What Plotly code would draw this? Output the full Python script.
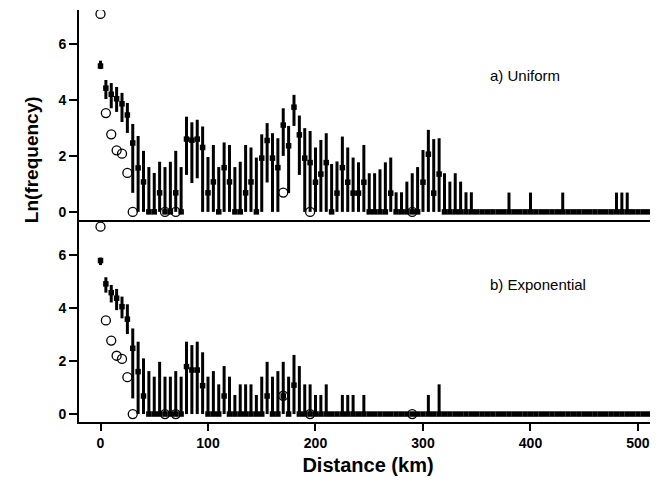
import plotly.graph_objects as go

# Distance bins (km), 5 km steps from 0 to 515
distance = list(range(0, 520, 5))

# ---- a) Uniform: simulated mean, lower and upper of range (ln frequency)
uni_mean = [5.21, 4.42, 4.20, 4.04, 3.86, 3.46, 2.46, 1.57, 1.07, 0,
            0, 0.68, 0, 0, 0.68, 0, 2.60, 2.56, 2.60, 2.30,
            0.68, 1.07, 0, 1.58, 1.07, 0, 0, 0.68, 1.07, 0,
            1.92, 2.55, 1.92, 1.58, 3.10, 2.36, 3.74, 2.75, 1.92, 1.76,
            1.06, 1.35, 1.76, 0, 0.67, 1.58, 1.06, 0.67, 0.67, 1.06,
            0, 0, 0, 0, 0.67, 0, 0, 0, 0, 0,
            1.06, 2.06, 0.67, 1.35, 0, 0, 0, 0, 0, 0,
            0, 0, 0, 0, 0, 0, 0, 0, 0, 0,
            0, 0, 0, 0, 0, 0, 0, 0, 0, 0,
            0, 0, 0, 0, 0, 0, 0, 0, 0, 0,
            0, 0, 0, 0]
uni_low = [5.10, 4.03, 3.70, 3.57, 3.21, 2.82, 0.68, 0, 0, 0,
           0, 0, 0, 0, 0, 0, 1.32, 1.03, 1.20, 0,
           0, 0, 0, 0, 0, 0, 0, 0, 0, 0,
           0, 1.05, 0, 0, 2.00, 0.67, 3.07, 1.32, 0, 0,
           0, 0, 0, 0, 0, 0, 0, 0, 0, 0,
           0, 0, 0, 0, 0, 0, 0, 0, 0, 0,
           0, 0, 0, 0, 0, 0, 0, 0, 0, 0,
           0, 0, 0, 0, 0, 0, 0, 0, 0, 0,
           0, 0, 0, 0, 0, 0, 0, 0, 0, 0,
           0, 0, 0, 0, 0, 0, 0, 0, 0, 0,
           0, 0, 0, 0]
uni_high = [5.40, 4.71, 4.60, 4.46, 4.25, 3.89, 3.14, 2.71, 2.18, 1.60,
            1.39, 1.79, 1.60, 1.79, 2.18, 1.60, 3.40, 3.20, 3.29, 3.05,
            1.96, 2.39, 1.60, 2.48, 2.39, 1.60, 1.79, 2.39, 2.30, 1.94,
            2.77, 3.17, 2.81, 2.63, 3.70, 3.07, 4.18, 3.44, 2.99, 2.89,
            2.30, 2.57, 2.81, 1.71, 1.80, 2.69, 2.30, 1.94, 1.77, 2.39,
            1.38, 1.38, 1.52, 1.77, 1.94, 0.70, 0.70, 1.08, 1.38, 1.60,
            2.21, 2.93, 2.60, 2.63, 1.38, 1.08, 1.38, 1.08, 0.70, 0.70,
            0, 0, 0, 0, 0, 0, 0.69, 0, 0, 0,
            0.69, 0, 0, 0, 0, 0, 0.69, 0, 0, 0,
            0, 0, 0, 0, 0, 0, 0.69, 0.69, 0.69, 0,
            0, 0, 0, 0]

# ---- b) Exponential
exp_mean = [5.79, 4.91, 4.58, 4.37, 4.05, 3.58, 2.48, 1.60, 0.68, 0,
            0, 0, 0, 0, 0, 0, 1.79, 1.66, 1.66, 1.07,
            0, 0, 0, 0.68, 0, 0, 0, 0, 0, 0,
            0, 0.68, 0, 0, 0.68, 0, 1.09, 0, 0, 0,
            0, 0, 0, 0, 0, 0, 0, 0, 0, 0,
            0, 0, 0, 0, 0, 0, 0, 0, 0, 0,
            0, 0, 0, 0, 0, 0, 0, 0, 0, 0,
            0, 0, 0, 0, 0, 0, 0, 0, 0, 0,
            0, 0, 0, 0, 0, 0, 0, 0, 0, 0,
            0, 0, 0, 0, 0, 0, 0, 0, 0, 0,
            0, 0, 0, 0]
exp_low = [5.62, 4.58, 4.21, 3.92, 3.61, 3.02, 0.59, 0, 0, 0,
           0, 0, 0, 0, 0, 0, 0, 0, 0, 0,
           0, 0, 0, 0, 0, 0, 0, 0, 0, 0,
           0, 0, 0, 0, 0, 0, 0, 0, 0, 0,
           0, 0, 0, 0, 0, 0, 0, 0, 0, 0,
           0, 0, 0, 0, 0, 0, 0, 0, 0, 0,
           0, 0, 0, 0, 0, 0, 0, 0, 0, 0,
           0, 0, 0, 0, 0, 0, 0, 0, 0, 0,
           0, 0, 0, 0, 0, 0, 0, 0, 0, 0,
           0, 0, 0, 0, 0, 0, 0, 0, 0, 0,
           0, 0, 0, 0]
exp_high = [5.90, 5.16, 4.87, 4.72, 4.43, 4.14, 3.23, 2.73, 2.10, 1.62,
            1.41, 1.97, 1.41, 1.41, 1.62, 1.41, 2.73, 2.60, 2.73, 2.33,
            1.41, 1.62, 1.12, 1.81, 1.41, 0.72, 1.12, 1.12, 1.12, 0.72,
            1.41, 1.97, 1.41, 1.62, 1.97, 1.41, 2.23, 1.81, 1.12, 1.12,
            0.72, 0.72, 1.12, 0, 0, 0.72, 0.72, 0.72, 0, 0.72,
            0, 0, 0, 0, 0, 0, 0, 0, 0, 0,
            0, 0.72, 0, 1.12, 0, 0, 0, 0, 0, 0,
            0, 0, 0, 0, 0, 0, 0, 0, 0, 0,
            0, 0, 0, 0, 0, 0, 0, 0, 0, 0,
            0, 0, 0, 0, 0, 0, 0, 0, 0, 0,
            0, 0, 0, 0]

# ---- Observed values (open circles), same in both panels
obs_distance = [0, 5, 10, 15, 20, 25, 30, 60, 70, 170, 195, 290]
obs_ln = [7.07, 3.53, 2.77, 2.20, 2.08, 1.39, 0, 0, 0, 0.69, 0, 0]

x_ticks = [0, 100, 200, 300, 400, 500]
y_ticks = [0, 2, 4, 6]

FONT = "Liberation Sans, Arial, Helvetica, sans-serif"


def sim_trace(mean, low, high, xa, ya):
    return go.Scatter(
        x=distance, y=mean, mode="markers", xaxis=xa, yaxis=ya,
        marker=dict(symbol="square", size=5.5, color="black"),
        error_y=dict(type="data", symmetric=False,
                     array=[h - m for h, m in zip(high, mean)],
                     arrayminus=[m - l for m, l in zip(mean, low)],
                     width=0, thickness=3, color="black"),
        showlegend=False, hoverinfo="skip")


def obs_trace(xa, ya):
    return go.Scatter(
        x=obs_distance, y=obs_ln, mode="markers", xaxis=xa, yaxis=ya,
        marker=dict(symbol="circle-open", size=9, color="black",
                    line=dict(width=1.3, color="black")),
        showlegend=False, hoverinfo="skip")


fig = go.Figure()
fig.add_trace(sim_trace(uni_mean, uni_low, uni_high, "x2", "y"))
fig.add_trace(obs_trace("x2", "y"))
fig.add_trace(sim_trace(exp_mean, exp_low, exp_high, "x", "y2"))
fig.add_trace(obs_trace("x", "y2"))

split = 0.4903
tickfont = dict(family=FONT, size=14, color="black")
x_ticktext = ["<b>%d</b>" % v for v in x_ticks]
y_ticktext = ["<b>%d</b>" % v for v in y_ticks]

yaxis_common = dict(tickvals=y_ticks, ticktext=y_ticktext, ticks="outside",
                    ticklen=8, tickwidth=1.5, tickcolor="black", showline=True,
                    linecolor="black", linewidth=2, showgrid=False,
                    zeroline=False, tickfont=tickfont)

# page body has an 8px margin; figure is sized so the plot lands where the reference has it
fig.update_layout(
    width=650, height=479,
    margin=dict(l=71, r=1, t=2, b=65),
    paper_bgcolor="white", plot_bgcolor="white",
    font=dict(family=FONT, color="black"),
    xaxis=dict(domain=[0, 1], anchor="y2", range=[-20, 517.7],
               tickvals=x_ticks, ticktext=x_ticktext, ticks="outside",
               ticklen=7, tickwidth=1.5, tickcolor="black", showline=True,
               linecolor="black", linewidth=2, showgrid=False, zeroline=False,
               tickfont=tickfont,
               title=dict(text="<b>Distance (km)</b>",
                          font=dict(family=FONT, size=20, color="black"),
                          standoff=8)),
    xaxis2=dict(domain=[0, 1], anchor="y", matches="x", range=[-20, 517.7],
                showticklabels=False, ticks="", showline=True,
                linecolor="black", linewidth=2, showgrid=False, zeroline=False),
    yaxis=dict(domain=[split, 1], anchor="x2", range=[-0.29, 7.21],
               **yaxis_common),
    yaxis2=dict(domain=[0, split], anchor="x", range=[-0.30, 7.32],
                **yaxis_common),
    annotations=[
        dict(text="a) Uniform", x=360.5, y=4.86, xref="x2", yref="y",
             xanchor="left", yanchor="middle", showarrow=False,
             font=dict(family=FONT, size=15, color="black")),
        dict(text="b) Exponential", x=360.5, y=4.87, xref="x", yref="y2",
             xanchor="left", yanchor="middle", showarrow=False,
             font=dict(family=FONT, size=15, color="black")),
        dict(text="<b>Ln(frequency)</b>", x=-0.081, y=0.636, xref="paper",
             yref="paper", xanchor="center", yanchor="middle", textangle=-90,
             showarrow=False, font=dict(family=FONT, size=19, color="black")),
    ],
)

fig.write_html("out.html")
